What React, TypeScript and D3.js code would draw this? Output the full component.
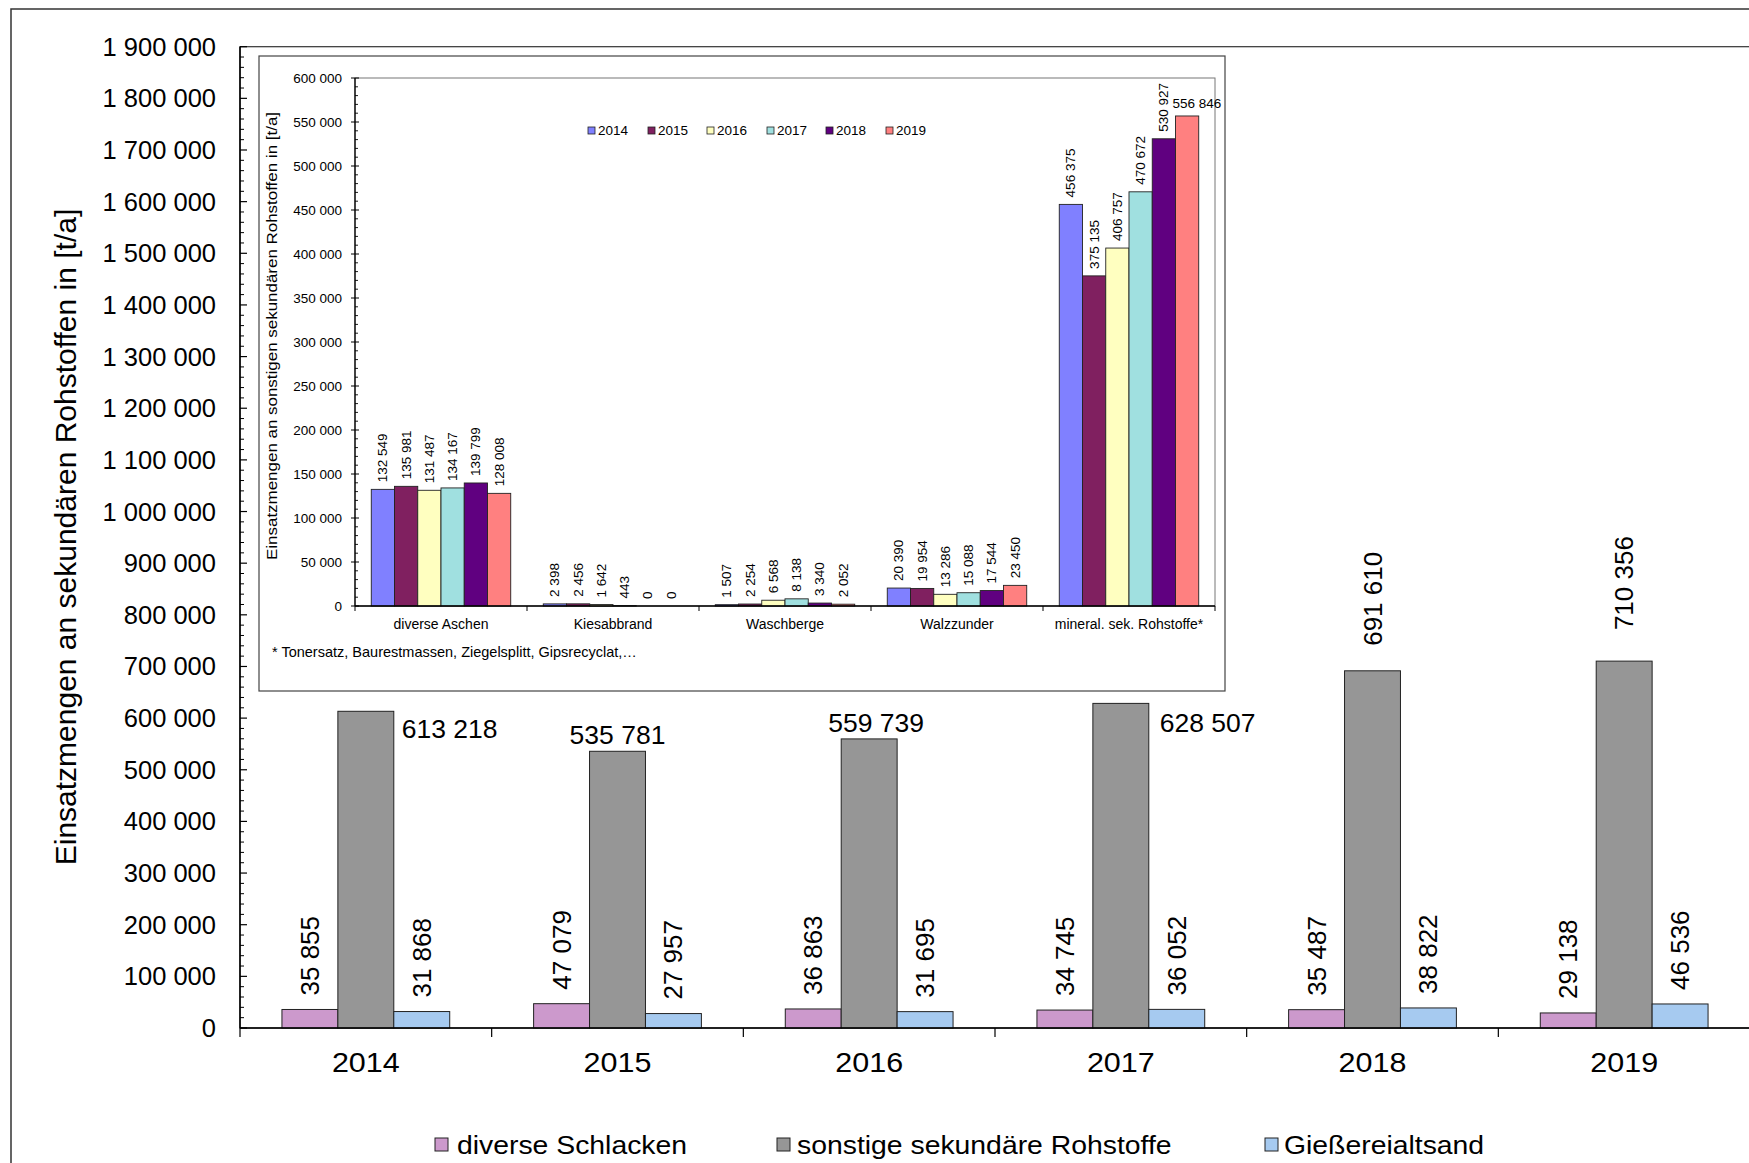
import React from "react";
import * as d3 from "d3";

// ---------- main chart data ----------
const years = ["2014", "2015", "2016", "2017", "2018", "2019"];
const mainSeries = ["diverse Schlacken", "sonstige sekundäre Rohstoffe", "Gießereialtsand"];
const schlacken = [35855, 47079, 36863, 34745, 35487, 29138];
const sonstige = [613218, 535781, 559739, 628507, 691610, 710356];
const giesserei = [31868, 27957, 31695, 36052, 38822, 46536];
const mainColors = ["#CC99CC", "#969696", "#A6CAF0"];
const mainTicks = d3.range(0, 1900001, 100000);

// ---------- inset data ----------
const insetCats = ["diverse Aschen", "Kiesabbrand", "Waschberge", "Walzzunder", "mineral. sek. Rohstoffe*"];
const insetYears = ["2014", "2015", "2016", "2017", "2018", "2019"];
const ins2014 = [132549, 2398, 1507, 20390, 456375];
const ins2015 = [135981, 2456, 2254, 19954, 375135];
const ins2016 = [131487, 1642, 6568, 13286, 406757];
const ins2017 = [134167, 443, 8138, 15088, 470672];
const ins2018 = [139799, 0, 3340, 17544, 530927];
const ins2019 = [128008, 0, 2052, 23450, 556846];
const insetColors = ["#8080FF", "#802060", "#FFFFC0", "#A0E0E0", "#600080", "#FF8080"];
const insetTicks = d3.range(0, 600001, 50000);
const footnote = "* Tonersatz, Baurestmassen, Ziegelsplitt, Gipsrecyclat,…";

// label placement for the grey series (style only)
const greyLabelPlacement = [
  { mode: "right", dx: 8, dy: 18 },
  { mode: "above", dx: 0, dy: -16 },
  { mode: "above", dx: 7, dy: -16 },
  { mode: "right", dx: 11, dy: 20 },
  { mode: "rot", gap: 25 },
  { mode: "rot", gap: 31 },
];

const loc = d3.formatLocale({ decimal: ",", thousands: " ", grouping: [3], currency: ["", ""] });
const fmt = loc.format(",");

const FONT = "'Liberation Sans', Arial, sans-serif";

export default function App() {
  // main scales
  const x0 = d3.scaleBand<string>().domain(years).range([240, 1750]).paddingInner(0).paddingOuter(0);
  const x1 = d3.scaleBand<string>().domain(mainSeries).range([0, x0.bandwidth()]).paddingInner(0).paddingOuter(0.75);
  const y = d3.scaleLinear().domain([0, 1900000]).range([1028, 46.7]);
  const mainData = [schlacken, sonstige, giesserei];
  const minorMain = d3.range(0, 1900001, 20000).filter((v) => v % 100000 !== 0);

  // inset scales
  const ix0 = d3.scaleBand<string>().domain(insetCats).range([355, 1215]).paddingInner(0).paddingOuter(0);
  const ix1 = d3.scaleBand<string>().domain(insetYears).range([0, ix0.bandwidth()]).paddingInner(0).paddingOuter(0.7);
  const iy = d3.scaleLinear().domain([0, 600000]).range([606, 78]);
  const insetData = [ins2014, ins2015, ins2016, ins2017, ins2018, ins2019];
  const minorInset = d3.range(0, 600001, 10000).filter((v) => v % 50000 !== 0);

  const mainBoundaries = d3.range(0, years.length + 1).map((k) => 240 + k * x0.step());
  const insetBoundaries = d3.range(0, insetCats.length + 1).map((k) => 355 + k * ix0.step());

  const legendItems = [
    { sq: 435, tx: 457 },
    { sq: 777, tx: 797 },
    { sq: 1265, tx: 1284 },
  ];
  const insetLegendX = [588, 648, 707, 767, 826, 886];

  return (
    <svg
      width={1749}
      height={1163}
      style={{ position: "absolute", left: 0, top: 0, background: "#fff" }}
      fontFamily={FONT}
    >
      <rect x={0} y={0} width={1749} height={1163} fill="#fff" />
      {/* outer chart border */}
      <rect x={11} y={9} width={1800} height={1300} fill="#fff" stroke="#333" strokeWidth={1.5} />

      {/* main plot area */}
      <rect x={240} y={46.7} width={1530} height={1028 - 46.7} fill="none" stroke="#333" strokeWidth={1.2} />

      {/* main bars */}
      {mainData.map((arr, si) =>
        arr.map((v, i) => (
          <rect
            key={`mb-${si}-${i}`}
            x={x0(years[i])! + x1(mainSeries[si])!}
            y={y(v)}
            width={x1.bandwidth()}
            height={y(0) - y(v)}
            fill={mainColors[si]}
            stroke="#222"
            strokeWidth={1}
          />
        ))
      )}

      {/* main value labels: pink & blue rotated */}
      {[0, 2].map((si) =>
        mainData[si].map((v, i) => {
          const cx = x0(years[i])! + x1(mainSeries[si])! + x1.bandwidth() / 2;
          const yy = y(v) - 14;
          return (
            <text
              key={`ml-${si}-${i}`}
              transform={`translate(${cx},${yy}) rotate(-90)`}
              fontSize={26}
              dominantBaseline="central"
              textAnchor="start"
              fill="#000"
            >
              {fmt(v)}
            </text>
          );
        })
      )}
      {/* grey labels */}
      {sonstige.map((v, i) => {
        const p = greyLabelPlacement[i];
        const bx = x0(years[i])! + x1(mainSeries[1])!;
        const bw = x1.bandwidth();
        const top = y(v);
        if (p.mode === "rot") {
          return (
            <text
              key={`gl-${i}`}
              transform={`translate(${bx + bw / 2},${top - (p.gap as number)}) rotate(-90)`}
              fontSize={26}
              dominantBaseline="central"
              textAnchor="start"
            >
              {fmt(v)}
            </text>
          );
        }
        if (p.mode === "right") {
          return (
            <text key={`gl-${i}`} x={bx + bw + (p.dx as number)} y={top + (p.dy as number)} fontSize={26.5} dominantBaseline="central">
              {fmt(v)}
            </text>
          );
        }
        return (
          <text
            key={`gl-${i}`}
            x={bx + bw / 2 + (p.dx as number)}
            y={top + (p.dy as number)}
            fontSize={26.5}
            textAnchor="middle"
            dominantBaseline="central"
          >
            {fmt(v)}
          </text>
        );
      })}

      {/* main y axis */}
      <line x1={240} x2={240} y1={46.7} y2={1028} stroke="#000" strokeWidth={1.5} />
      {minorMain.map((v) => (
        <line key={`mmn-${v}`} x1={240} x2={244} y1={y(v)} y2={y(v)} stroke="#000" strokeWidth={1} />
      ))}
      {mainTicks.map((v) => (
        <g key={`mt-${v}`}>
          <line x1={240} x2={247} y1={y(v)} y2={y(v)} stroke="#000" strokeWidth={1.2} />
          <text x={216} y={y(v)} fontSize={25.5} textAnchor="end" dominantBaseline="central">
            {fmt(v)}
          </text>
        </g>
      ))}
      {/* main x axis */}
      <line x1={240} x2={1760} y1={1028} y2={1028} stroke="#000" strokeWidth={1.5} />
      {mainBoundaries.map((bx) => (
        <line key={`mxb-${bx}`} x1={bx} x2={bx} y1={1028} y2={1037} stroke="#000" strokeWidth={1.2} />
      ))}
      {years.map((yr) => (
        <text
          key={`mx-${yr}`}
          transform={`translate(${x0(yr)! + x0.bandwidth() / 2},1063) scale(1.13,1)`}
          fontSize={27}
          textAnchor="middle"
          dominantBaseline="central"
        >
          {yr}
        </text>
      ))}
      {/* main y title */}
      <text transform="translate(65,537) rotate(-90)" fontSize={30} textAnchor="middle" dominantBaseline="central">
        Einsatzmengen an sekundären Rohstoffen in [t/a]
      </text>

      {/* main legend */}
      {mainSeries.map((s, i) => (
        <g key={`lg-${i}`}>
          <rect x={legendItems[i].sq} y={1138} width={13} height={13} fill={mainColors[i]} stroke="#222" strokeWidth={1} />
          <text transform={`translate(${legendItems[i].tx},1145) scale(1.07,1)`} fontSize={26.5} dominantBaseline="central">
            {s}
          </text>
        </g>
      ))}

      {/* ---------------- inset ---------------- */}
      <rect x={259} y={56} width={1225 - 259} height={691 - 56} fill="#fff" stroke="#444" strokeWidth={1.2} />
      <rect x={355} y={78} width={1215 - 355} height={606 - 78} fill="none" stroke="#777" strokeWidth={1} />

      {insetData.map((arr, si) =>
        arr.map((v, ci) => (
          <rect
            key={`ib-${si}-${ci}`}
            x={ix0(insetCats[ci])! + ix1(insetYears[si])!}
            y={iy(v)}
            width={ix1.bandwidth()}
            height={iy(0) - iy(v)}
            fill={insetColors[si]}
            stroke="#222"
            strokeWidth={v > 0 ? 0.9 : 0}
          />
        ))
      )}
      {insetData.map((arr, si) =>
        arr.map((v, ci) => {
          const bx = ix0(insetCats[ci])! + ix1(insetYears[si])!;
          const cx = bx + ix1.bandwidth() / 2;
          if (ci === 4 && si === 5) {
            return (
              <text key={`il-${si}-${ci}`} x={bx - 3} y={iy(v) - 12} fontSize={13.5} dominantBaseline="central">
                {fmt(v)}
              </text>
            );
          }
          return (
            <text
              key={`il-${si}-${ci}`}
              transform={`translate(${cx},${iy(v) - 7}) rotate(-90)`}
              fontSize={13.5}
              dominantBaseline="central"
              textAnchor="start"
            >
              {fmt(v)}
            </text>
          );
        })
      )}

      {/* inset y axis */}
      <line x1={355} x2={355} y1={78} y2={606} stroke="#000" strokeWidth={1.3} />
      {minorInset.map((v) => (
        <line key={`imn-${v}`} x1={355} x2={358} y1={iy(v)} y2={iy(v)} stroke="#000" strokeWidth={0.9} />
      ))}
      {insetTicks.map((v) => (
        <g key={`it-${v}`}>
          <line x1={351} x2={359} y1={iy(v)} y2={iy(v)} stroke="#000" strokeWidth={1} />
          <text x={342} y={iy(v)} fontSize={13.5} textAnchor="end" dominantBaseline="central">
            {fmt(v)}
          </text>
        </g>
      ))}
      {/* inset x axis */}
      <line x1={355} x2={1215} y1={606} y2={606} stroke="#000" strokeWidth={1.3} />
      {insetBoundaries.map((bx) => (
        <line key={`ixb-${bx}`} x1={bx} x2={bx} y1={606} y2={611} stroke="#000" strokeWidth={1} />
      ))}
      {insetCats.map((c) => (
        <text key={`ix-${c}`} x={ix0(c)! + ix0.bandwidth() / 2} y={624} fontSize={14} textAnchor="middle" dominantBaseline="central">
          {c}
        </text>
      ))}
      <text
        transform="translate(271,336) rotate(-90)"
        fontSize={15}
        textAnchor="middle"
        dominantBaseline="central"
        textLength={448}
        lengthAdjust="spacingAndGlyphs"
      >
        Einsatzmengen an sonstigen sekundären Rohstoffen  in [t/a]
      </text>
      <text x={272} y={652} fontSize={14.5} dominantBaseline="central">
        {footnote}
      </text>

      {/* inset legend */}
      {insetYears.map((yr, i) => (
        <g key={`ilg-${yr}`}>
          <rect x={insetLegendX[i]} y={127} width={7} height={7} fill={insetColors[i]} stroke="#222" strokeWidth={0.8} />
          <text x={insetLegendX[i] + 10} y={130.5} fontSize={13.5} dominantBaseline="central">
            {yr}
          </text>
        </g>
      ))}
    </svg>
  );
}
